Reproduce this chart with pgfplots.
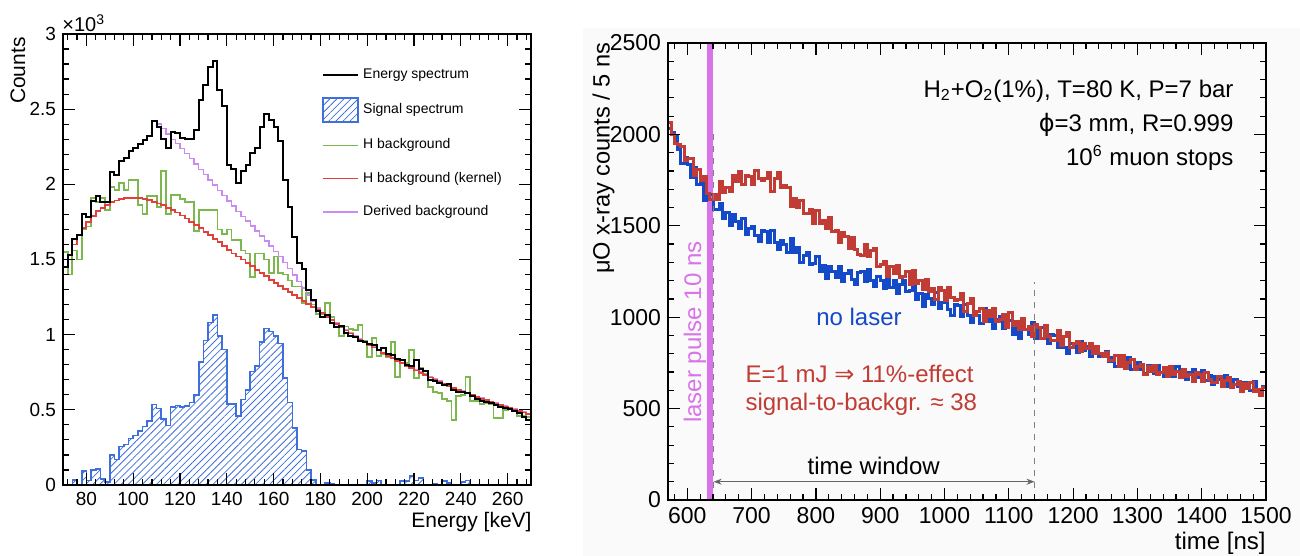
\documentclass[border=0pt]{standalone}
\usepackage{fontspec}
\setmainfont{Liberation Sans}
\newfontfamily\djv{DejaVu Sans}
\usepackage{pgfplots}
\pgfplotsset{compat=1.18}
\usepackage{pgfplotstable}
\usetikzlibrary{patterns.meta,arrows.meta}

\definecolor{sigblue}{HTML}{3F6FDB}
\definecolor{hgreen}{HTML}{7DB84E}
\definecolor{kred}{HTML}{E0413A}
\definecolor{derpurple}{HTML}{C98AF2}
\definecolor{nolaser}{HTML}{1449C8}
\definecolor{laser}{HTML}{C03C34}
\definecolor{pulse}{HTML}{D873EA}
\definecolor{panelbg}{RGB}{250,250,250}

% energy spectrum, 2 keV bins (left edges), last row closes the histogram
\pgfplotstableread{
E tot sig hbg ker der
70 1450 0 1550 1450 1450
72 1530 0 1400 1530 1530
74 1635 35 1560 1600 1635
76 1660 0 1500 1660 1660
78 1805 95 1700 1710 1805
80 1780 30 1720 1750 1780
82 1890 100 1910 1790 1890
84 1925 105 1880 1820 1925
86 1885 40 1910 1845 1885
88 1885 20 1830 1865 1885
90 2080 200 1980 1880 2080
92 2063 170 1960 1893 2063
94 2157 255 2010 1902 2157
96 2177 270 1960 1907 2177
98 2220 310 2030 1910 2220
100 2240 330 2030 1910 2240
102 2267 360 1860 1907 2267
104 2292 390 1800 1902 2292
106 2320 425 1920 1895 2320
108 2420 535 1920 1885 2420
110 2383 510 1850 1873 2400
112 2300 440 2090 1860 2370
114 2240 395 1800 1845 2335
116 2350 520 1930 1830 2300
118 2340 528 1930 1812 2270
120 2310 517 1900 1793 2240
122 2300 527 1880 1773 2205
124 2300 548 1880 1752 2170
126 2360 600 1690 1730 2135
128 2560 820 1830 1708 2100
130 2660 960 1830 1685 2065
132 2780 1080 1830 1662 2030
134 2820 1130 1830 1638 1995
136 2630 990 1700 1614 1960
138 2520 900 1670 1590 1925
140 2130 540 1700 1565 1890
142 2100 540 1630 1540 1855
144 2010 460 1630 1520 1820
146 2090 570 1560 1500 1787
148 2130 630 1540 1478 1755
150 2210 755 1385 1455 1722
152 2240 790 1540 1432 1690
154 2380 950 1540 1410 1657
156 2470 1040 1500 1388 1624
158 2430 1020 1410 1366 1590
160 2380 990 1520 1345 1555
162 2290 940 1410 1325 1518
164 2030 710 1400 1305 1480
166 1850 550 1360 1285 1440
168 1650 380 1320 1265 1398
170 1480 235 1320 1245 1355
172 1440 225 1210 1225 1310
174 1300 100 1275 1205 1265
176 1230 35 1200 1185 1220
178 1160 0 1140 1165 1178
180 1120 0 1140 1145 1145
182 1130 15 1210 1120 1125
184 1080 10 1120 1095 1100
186 1050 0 1070 1072 1077
188 1060 0 990 1050 1055
190 1010 0 1054 1028 1033
192 990 0 1040 1008 1013
194 985 0 1030 988 993
196 960 0 1065 968 973
198 950 0 960 950 955
200 935 25 850 932 937
202 930 15 980 914 919
204 900 30 860 896 901
206 910 0 870 878 883
208 870 0 850 860 865
210 865 0 950 843 848
212 840 0 720 826 831
214 830 25 810 810 815
216 800 25 810 794 799
218 790 60 900 778 783
220 830 30 710 762 767
222 770 45 780 746 751
224 760 0 740 730 735
226 700 0 650 715 720
228 690 10 620 700 705
230 680 0 610 686 691
232 665 25 570 672 677
234 670 15 560 658 663
236 630 0 430 645 650
238 620 0 590 632 637
240 620 20 600 620 625
242 615 30 720 608 613
244 590 0 560 596 601
246 570 0 560 585 590
248 560 0 540 574 579
250 550 0 545 563 568
252 545 0 535 552 557
254 530 0 445 542 547
256 520 0 445 532 537
258 515 0 500 522 527
260 505 0 505 512 517
262 490 0 495 502 507
264 480 0 460 492 497
266 450 0 460 482 487
268 430 0 450 472 477
270 430 0 450 472 477
}\spec

% muonic oxygen x-ray time spectra, 5 ns bins (left edges)
\pgfplotstableread{
t nl la
570 2030 2065
575 2010 2000
580 1990 1950
585 1920 1945
590 1840 1935
595 1875 1855
600 1835 1870
605 1765 1870
610 1820 1775
615 1725 1810
620 1735 1750
625 1640 1770
630 1670 1675
635 1670 1645
640 1590 1670
645 1590 1645
650 1620 1740
655 1540 1680
660 1575 1710
665 1500 1690
670 1560 1775
675 1525 1745
680 1485 1795
685 1542 1725
690 1450 1775
695 1485 1770
700 1495 1725
705 1445 1805
710 1415 1760
715 1473 1750
720 1470 1760
725 1410 1790
730 1475 1690
735 1410 1760
740 1370 1790
745 1422 1710
750 1400 1720
755 1353 1710
760 1430 1605
765 1353 1650
770 1380 1600
775 1298 1640
780 1340 1565
785 1355 1570
790 1290 1590
795 1295 1513
800 1330 1585
805 1250 1513
810 1285 1530
815 1212 1485
820 1275 1545
825 1248 1470
830 1215 1475
835 1280 1410
840 1195 1465
845 1238 1440
850 1255 1375
855 1207 1435
860 1180 1370
865 1245 1345
870 1248 1340
875 1193 1400
880 1260 1330
885 1202 1365
890 1168 1375
895 1222 1280
900 1200 1290
905 1155 1303
910 1235 1220
915 1165 1278
920 1200 1240
925 1127 1285
930 1178 1215
935 1199 1225
940 1140 1250
945 1145 1177
950 1180 1255
955 1098 1183
960 1130 1200
965 1060 1150
970 1125 1205
975 1100 1140
980 1070 1155
985 1133 1097
990 1045 1160
995 1080 1145
1000 1092 1090
1005 1040 1162
1010 1008 1110
1015 1067 1092
1020 1065 1095
1025 1005 1127
1030 1070 1030
1035 1008 1077
1040 972 1100
1045 1027 1012
1050 1007 1030
1055 965 1050
1060 1048 975
1065 979 1038
1070 1015 1005
1075 940 1048
1080 990 975
1085 1005 987
1090 940 1015
1095 945 945
1100 980 1025
1105 908 955
1110 950 975
1115 883 932
1120 952 995
1125 930 932
1130 903 950
1135 969 895
1140 885 960
1145 926 943
1150 942 885
1155 889 952
1160 855 895
1165 908 875
1170 900 875
1175 833 925
1180 890 845
1185 832 893
1190 800 915
1195 857 832
1200 840 855
1205 807 868
1210 865 813
1215 816 854
1220 840 828
1225 785 856
1230 819 804
1235 831 842
1240 786 801
1245 788 784
1250 813 806
1255 757 764
1260 780 763
1265 730 792
1270 774 733
1275 755 788
1280 732 720
1285 777 754
1290 715 770
1295 742 712
1300 751 728
1305 715 742
1310 692 688
1315 734 730
1320 733 705
1325 690 736
1330 737 687
1335 696 699
1340 674 723
1345 715 675
1350 704 733
1355 674 685
1360 733 701
1365 686 671
1370 713 715
1375 660 674
1380 697 689
1385 713 650
1390 671 697
1395 678 687
1400 706 647
1405 653 696
1410 680 657
1415 631 642
1420 676 642
1425 658 677
1430 637 620
1435 682 655
1440 620 672
1445 648 615
1450 658 632
1455 623 646
1460 602 593
1465 644 635
1470 643 611
1475 600 643
1480 647 594
1485 605 605
1490 582 571
1495 621 613
1500 621 613
}\timing

\pgfplotsset{
  rootframe/.style={
    scale only axis,
    axis on top,
    axis line style={line width=0.7pt},
    tick align=inside,
    major tick length=6pt,
    minor tick length=3pt,
    every tick/.style={black, line width=0.6pt},
    /pgf/number format/assume math mode=true,
    /pgf/number format/1000 sep={},
  },
  linelegend/.style={legend image code/.code={\draw[##1] (0pt,0pt) -- (17.5pt,0pt);}},
  boxlegend/.style={legend image code/.code={\draw[##1] (0pt,-6pt) rectangle (17.5pt,6pt);}},
  hatch/.style={pattern={Lines[angle=45,distance=2.5pt,line width=0.4pt]}, pattern color=sigblue},
}

\begin{document}
\begin{tikzpicture}
\useasboundingbox (0pt,0pt) rectangle (650pt,278pt);
\fill[panelbg] (291.5pt,0pt) rectangle (650pt,264pt);

%--- left: energy spectrum
\begin{axis}[
  rootframe,
  at={(31.5pt,35.5pt)}, anchor=south west,
  width=234pt, height=225.5pt,
  xmin=70, xmax=270, ymin=0, ymax=3000,
  xtick={80,100,...,260},
  minor xtick={72,76,...,268},
  ytick={0,500,...,3000},
  yticklabels={0,0.5,1,1.5,2,2.5,3},
  minor ytick={100,200,...,2900},
  ticklabel style={font=\fontsize{9.5}{11}\selectfont},
  linelegend,
  legend style={draw=none, fill=none, at={(0.553,0.933)}, anchor=north west,
    font=\fontsize{7}{8.4}\selectfont, row sep=6pt, inner sep=0pt},
  legend cell align=left,
]
\addlegendimage{black, line width=1pt}
\addlegendentry{Energy spectrum}
\addlegendimage{draw=sigblue, line width=0.8pt, hatch, boxlegend}
\addlegendentry{Signal spectrum}
\addlegendimage{hgreen, line width=0.9pt}
\addlegendentry{H background}
\addlegendimage{kred, line width=0.9pt}
\addlegendentry{H background (kernel)}
\addlegendimage{derpurple, line width=0.8pt}
\addlegendentry{Derived background}

\addplot[const plot, draw=sigblue, line width=0.8pt, hatch, forget plot]
  table[x=E, y=sig] {\spec} \closedcycle;
\addplot[const plot, hgreen, line width=0.9pt, forget plot] table[x=E, y=hbg] {\spec};
\addplot[const plot, derpurple, line width=0.7pt, forget plot] table[x=E, y=der] {\spec};
\addplot[const plot, kred, line width=0.9pt, forget plot] table[x=E, y=ker] {\spec};
\addplot[const plot, black, line width=1pt, forget plot] table[x=E, y=tot] {\spec};
\end{axis}

\node[anchor=base east, inner sep=0pt, font=\fontsize{10.5}{12}\selectfont] at (266pt,14pt) {Energy [keV]};
\node[rotate=90, anchor=north east, inner sep=0pt, font=\fontsize{10.5}{12}\selectfont] at (5pt,259.5pt) {Counts};
\node[anchor=base west, inner sep=0pt, font=\fontsize{10}{12}\selectfont] at (31pt,262pt) {×10\textsuperscript{3}};

%--- right: time spectra
\begin{axis}[
  rootframe,
  at={(334pt,28pt)}, anchor=south west,
  width=299pt, height=228.5pt,
  xmin=570, xmax=1500, ymin=0, ymax=2500,
  xtick={600,700,...,1500},
  minor xtick={580,600,...,1500},
  ytick={0,500,...,2500},
  minor ytick={100,200,...,2400},
  ticklabel style={font=\fontsize{11.5}{13}\selectfont},
]
\fill[pulse] (axis cs:630,0) rectangle (axis cs:640,2500);
\addplot[const plot, nolaser, line width=1.5pt] table[x=t, y=nl] {\timing};
\addplot[const plot, laser, line width=1.5pt] table[x=t, y=la] {\timing};
\draw[gray, dashed, line width=0.6pt] (axis cs:641,0) -- (axis cs:641,2010);
\draw[gray, dashed, line width=0.6pt] (axis cs:1140,0) -- (axis cs:1140,1195);
\draw[gray!80!black, line width=0.5pt, {Stealth[length=4pt,width=3pt]}-{Stealth[length=4pt,width=3pt]}]
  (axis cs:641,100) -- (axis cs:1140,100);
\node[anchor=base, inner sep=0pt, font=\fontsize{12}{14}\selectfont] at (axis cs:890,137) {time window};
\node[pulse, rotate=90, anchor=west, inner sep=0pt, font=\fontsize{12}{14}\selectfont] at (axis cs:612,420) {laser pulse 10 ns};
\node[nolaser, anchor=base west, inner sep=0pt, font=\fontsize{12}{14}\selectfont] at (axis cs:800,952) {no laser};
\node[laser, anchor=base west, inner sep=0pt, font=\fontsize{12}{14}\selectfont] at (axis cs:690,642) {E=1 mJ {\djv ⇒} 11\%-effect};
\node[laser, anchor=base west, inner sep=0pt, font=\fontsize{12}{14}\selectfont] at (axis cs:690,487) {signal-to-backgr. ≈ 38};
\node[anchor=base east, inner sep=0pt, font=\fontsize{12}{14}\selectfont] at (axis cs:1450,2204) {H\textsubscript{2}+O\textsubscript{2}(1\%), T=80 K, P=7 bar};
\node[anchor=base east, inner sep=0pt, font=\fontsize{12}{14}\selectfont] at (axis cs:1450,2018) {{\djv ϕ}=3 mm, R=0.999};
\node[anchor=base east, inner sep=0pt, font=\fontsize{12}{14}\selectfont] at (axis cs:1450,1832) {10\textsuperscript{6} muon stops};
\end{axis}

\node[anchor=base east, inner sep=0pt, font=\fontsize{12}{14}\selectfont] at (633pt,3pt) {time [ns]};
\node[rotate=90, anchor=north east, inner sep=0pt, font=\fontsize{11.8}{14}\selectfont] at (296pt,257pt) {μO x-ray counts / 5 ns};
\end{tikzpicture}
\end{document}
